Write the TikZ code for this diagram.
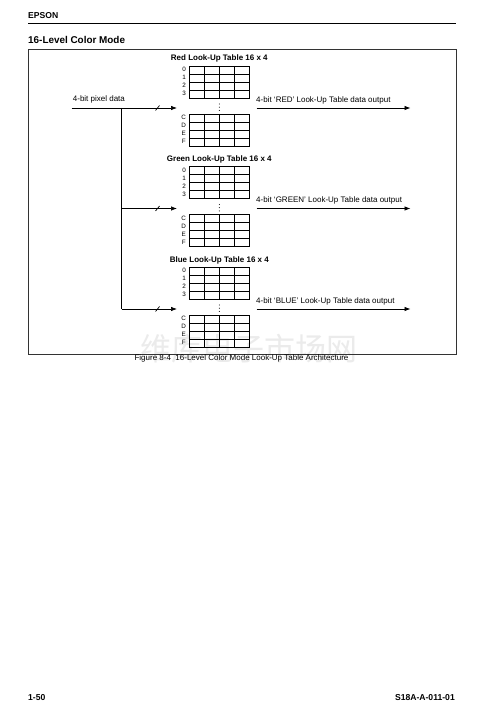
\documentclass[tikz,border=0pt]{standalone}
\usepackage{fontspec}
\setmainfont{Liberation Sans}
\newfontfamily\cjkwm{Noto Sans CJK SC}
\usetikzlibrary{arrows.meta}
\begin{document}
\begin{tikzpicture}[x=1pt,y=-1pt,
  lut/.style={draw, line width=0.8pt, minimum width=60pt, minimum height=32pt, inner sep=0pt, anchor=north west},
  gridl/.style={line width=0.8pt},
  wire/.style={line width=0.7pt},
  arr/.style={wire, -{Latex[length=6pt,width=4.5pt]}},
  lbl/.style={font=\fontsize{8}{9}\selectfont, inner sep=0pt, anchor=base west},
  ttl/.style={font=\bfseries\fontsize{8}{9}\selectfont, inner sep=0pt, anchor=base},
  rowl/.style={font=\fontsize{6.3}{7}\selectfont, inner sep=0pt, anchor=east},
  bold/.style={font=\bfseries\fontsize{8.6}{10}\selectfont, inner sep=0pt},
]
\useasboundingbox[fill=white] (0,0) rectangle (499,708);
% watermark
\node[text=black!8, font=\cjkwm\fontsize{31}{31}\selectfont, inner sep=0pt] (wm) at (249,349) {维库电子市场网};
% header
\node[bold, anchor=base west] (hdr) at (28,19) {EPSON};
\coordinate (hl) at (28,23.5);
\coordinate (hr) at (456,23.5);
\draw[line width=0.8pt] (hl) -- (hr);
\node[font=\bfseries\fontsize{9.9}{12}\selectfont, inner sep=0pt, anchor=base west] (sec) at (28,44) {16-Level Color Mode};
% frame
\node[draw=black!80, line width=0.8pt, minimum width=428.5pt, minimum height=304pt, inner sep=0pt, anchor=north west] (frame) at (27.5,49.5) {};
% caption
\node[lbl, anchor=base] (cap) at (241.5,360.5) {Figure 8-4\ \ 16-Level Color Mode Look-Up Table Architecture};
% footer
\node[bold, anchor=base west] (pg) at (28,700.5) {1-50};
\node[bold, anchor=base east] (doc) at (455,700.5) {S18A-A-011-01};
% input
\coordinate (in) at (71.7,108);
\node[lbl] (inl) at (72.7,102) {4-bit pixel data};
\foreach \n/\name/\out [count=\i from 0] in {R/Red/RED, G/Green/GREEN, B/Blue/BLUE} {
  \pgfmathsetmacro\oy{100.5*\i}
  \node[ttl] (tt\n) at (219.3,61+\oy) {\name{} Look-Up Table 16 x 4};
  \node[lut] (up\n) at (189.3,66+\oy) {};
  \node[lut] (lo\n) at (189.3,114+\oy) {};
  \foreach \k in {1,2,3} {
    \draw[gridl] (189.3+15*\k,66+\oy) -- ++(0,32);
    \draw[gridl] (189.3,66+\oy+8*\k) -- ++(60,0);
    \draw[gridl] (189.3+15*\k,114+\oy) -- ++(0,32);
    \draw[gridl] (189.3,114+\oy+8*\k) -- ++(60,0);
  }
  \foreach \r [count=\k from 0] in {0,1,2,3} {
    \node[rowl] (ru\n\k) at (186,69.7+\oy+8*\k) {\r};
  }
  \foreach \r [count=\k from 0] in {C,D,E,F} {
    \node[rowl] (rd\n\k) at (186,117.7+\oy+8*\k) {\r};
  }
  \foreach \d in {0,1,2} {
    \fill (219.3,104+\oy+3.2*\d) circle (0.55pt);
  }
  \coordinate (j\n) at (121.7,108+\oy);
  \coordinate (t\n) at (177,108+\oy);
  \draw[wire] (155.5,110.5+\oy) -- (159.5,105.5+\oy);
  \coordinate (o\n) at (256.5,108+\oy);
  \coordinate (e\n) at (410.5,108+\oy);
  \draw[arr] (o\n) -- (e\n);
  \node[lbl] (ol\n) at (256,102.5+\oy) {4-bit `\out' Look-Up Table data output};
}
\draw[arr] (in) -- (tR);
\draw[wire] (jR) -- (jB);
\draw[arr] (jG) -- (tG);
\draw[arr] (jB) -- (tB);
\end{tikzpicture}
\end{document}
